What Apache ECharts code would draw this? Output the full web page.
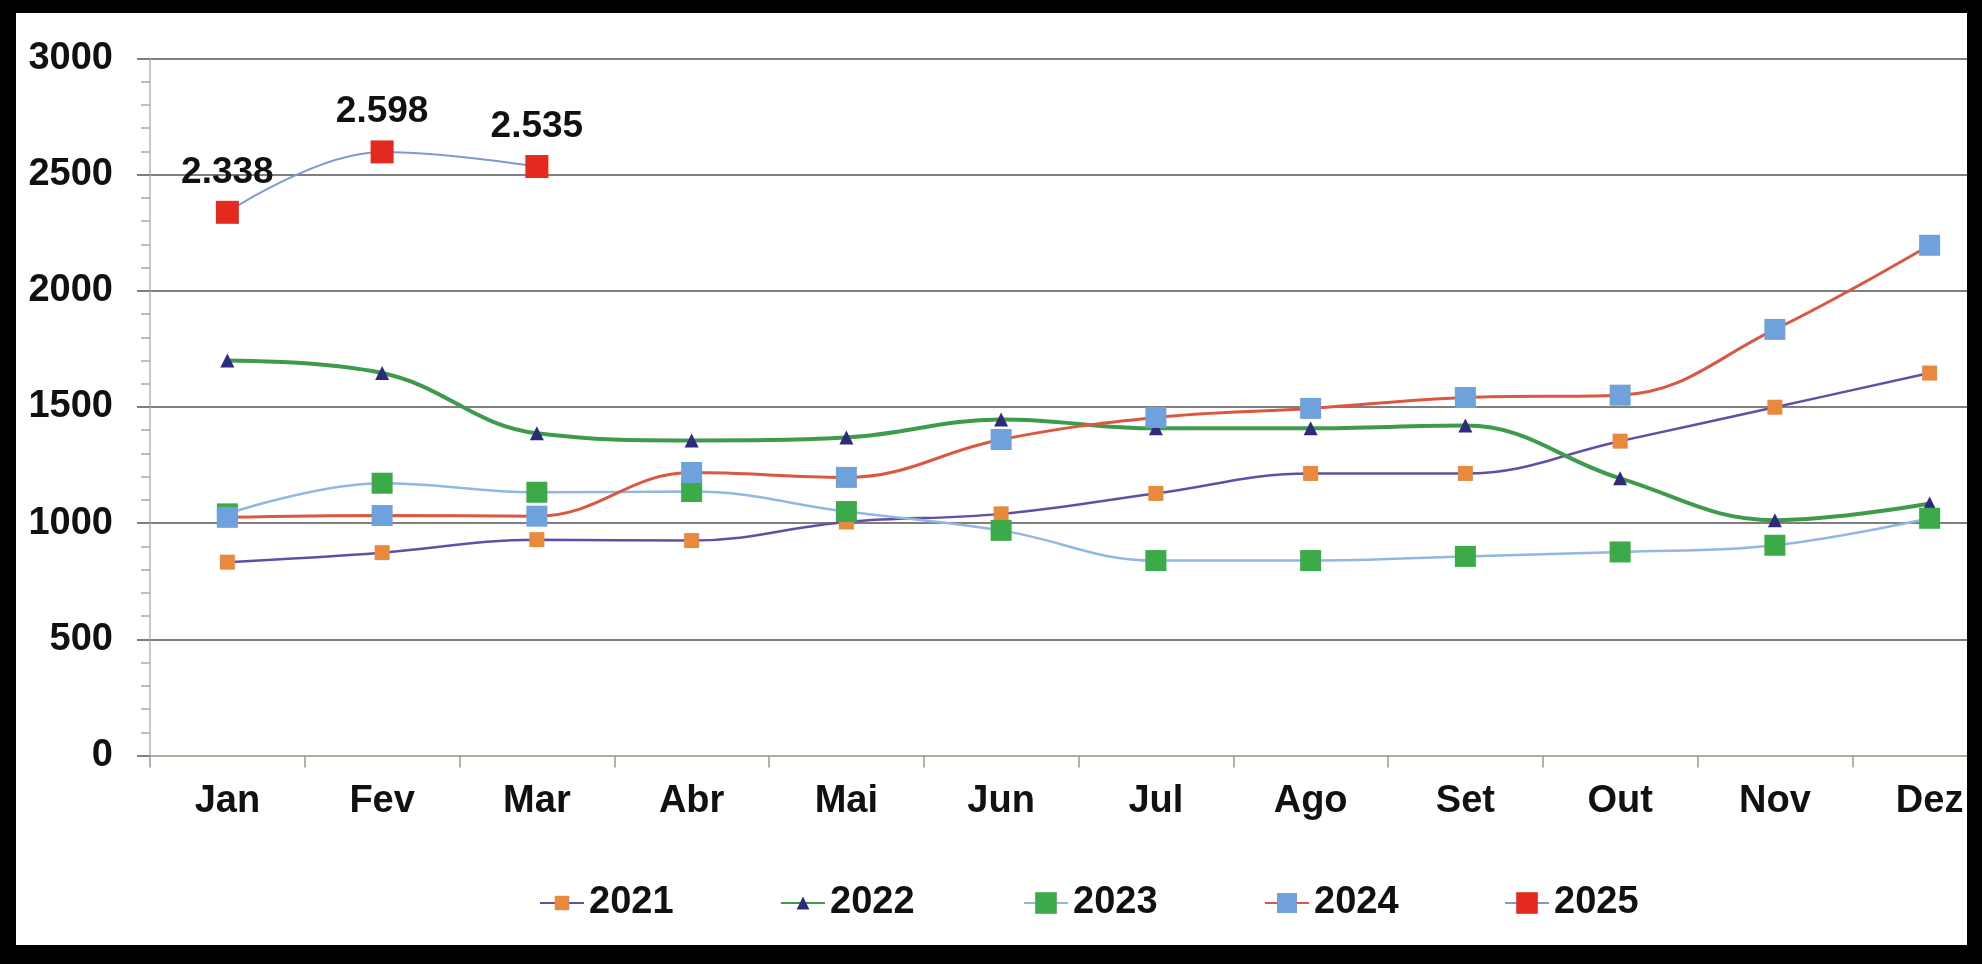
<!DOCTYPE html>
<html>
<head>
<meta charset="utf-8">
<script src="https://cdn.jsdelivr.net/npm/echarts@6/dist/echarts.min.js"></script>
<style>
html,body{margin:0;padding:0;background:#fff;}
#chart{width:1982px;height:964px;}
</style>
</head>
<body>
<div id="chart"></div>
<script>
const categories = ['Jan','Fev','Mar','Abr','Mai','Jun','Jul','Ago','Set','Out','Nov','Dez'];
const yTicks = [0, 500, 1000, 1500, 2000, 2500, 3000];
const v2021 = [832, 873, 929, 925, 1005, 1040, 1128, 1214, 1214, 1353, 1499, 1646];
const v2022 = [1700, 1646, 1387, 1356, 1369, 1446, 1408, 1408, 1420, 1193, 1013, 1085];
const v2023 = [1040, 1172, 1133, 1136, 1050, 969, 839, 839, 857, 876, 905, 1021];
const v2024 = [1025, 1033, 1030, 1218, 1197, 1360, 1455, 1494, 1541, 1551, 1834, 2196];
const v2025 = [2338, 2598, 2535];
const seriesNames = ['2021', '2022', '2023', '2024', '2025'];

const FONT = '"Liberation Sans", Arial, sans-serif';
const chart = echarts.init(document.getElementById('chart'), null, {renderer: 'canvas'});

function fmtThousands(v) {
  const s = String(Math.round(v));
  return s.length > 3 ? s.slice(0, s.length - 3) + '.' + s.slice(-3) : s;
}

const styles = [
  {line: '#5F50A6', lw: 2.5, item: '#E8893C', sym: 'rect', size: 15, legH: 18},
  {line: '#3F9B4C', lw: 4, item: '#2E2A7C', sym: 'triangle', size: 14, legH: 16},
  {line: '#93B7E3', lw: 2.5, item: '#3DAA4A', sym: 'rect', size: 21, legH: 27},
  {line: '#D9583F', lw: 3, item: '#6FA1DC', sym: 'rect', size: 21, legH: 25},
  {line: '#7D9BD0', lw: 2, item: '#E42A1F', sym: 'rect', size: 23, legH: 27}
];
const dataSets = [v2021, v2022, v2023, v2024, v2025];

const series = seriesNames.map((name, i) => {
  const st = styles[i];
  const s = {
    name: name,
    type: 'line',
    data: dataSets[i],
    smooth: 0.4,
    symbol: st.sym,
    symbolSize: st.size,
    showAllSymbol: true,
    lineStyle: {color: st.line, width: st.lw},
    itemStyle: {color: st.item},
    emphasis: {disabled: true},
    z: 2 + i
  };
  if (name === '2025') {
    s.label = {
      show: true,
      position: 'top',
      distance: 10,
      formatter: p => fmtThousands(p.value),
      fontFamily: FONT,
      fontWeight: 'bold',
      fontSize: 37,
      color: '#111'
    };
  }
  return s;
});

const legendLefts = [539, 780, 1023, 1264, 1504];
const legends = seriesNames.map((name, i) => ({
  show: true,
  data: [name],
  left: legendLefts[i],
  top: 884,
  itemWidth: 44,
  itemHeight: styles[i].legH,
  itemGap: 0,
  padding: 0,
  selectedMode: false,
  textStyle: {fontFamily: FONT, fontWeight: 'bold', fontSize: 38, color: '#111'}
}));

const option = {
  animation: false,
  backgroundColor: '#ffffff',
  legend: legends,
  grid: {left: 150, right: -25, top: 58.5, bottom: 208.5, containLabel: false, outerBoundsMode: 'none'},
  xAxis: {
    type: 'category',
    data: categories,
    boundaryGap: true,
    axisLine: {show: true, lineStyle: {color: '#B9AB9C', width: 2}},
    axisTick: {show: true, length: 12, alignWithLabel: false, interval: 0, lineStyle: {color: '#9A9A9A', width: 1.5}},
    axisLabel: {interval: 0, margin: 27, fontFamily: FONT, fontWeight: 'bold', fontSize: 38, color: '#111'},
    splitLine: {show: false}
  },
  yAxis: {
    type: 'value',
    min: yTicks[0],
    max: yTicks[yTicks.length - 1],
    interval: 500,
    axisLine: {show: true, lineStyle: {color: '#C2B4A6', width: 1.5}},
    axisTick: {show: true, length: 13, lineStyle: {color: '#7F7F7F', width: 2}},
    minorTick: {show: true, splitNumber: 5, length: 9, lineStyle: {color: '#A8A8A8', width: 1.5}},
    axisLabel: {margin: 37, fontFamily: FONT, fontWeight: 'bold', fontSize: 38, color: '#111', formatter: v => String(v)},
    splitLine: {show: true, lineStyle: {color: '#7F7F7F', width: 2}}
  },
  series: series,
  graphic: [
    {type: 'rect', z: 1000, silent: true, shape: {x: 0, y: 0, width: 1982, height: 13}, style: {fill: '#000'}},
    {type: 'rect', z: 1000, silent: true, shape: {x: 0, y: 945, width: 1982, height: 19}, style: {fill: '#000'}},
    {type: 'rect', z: 1000, silent: true, shape: {x: 0, y: 0, width: 16, height: 964}, style: {fill: '#000'}},
    {type: 'rect', z: 1000, silent: true, shape: {x: 1967, y: 0, width: 15, height: 964}, style: {fill: '#000'}}
  ]
};
chart.setOption(option);
</script>
</body>
</html>
